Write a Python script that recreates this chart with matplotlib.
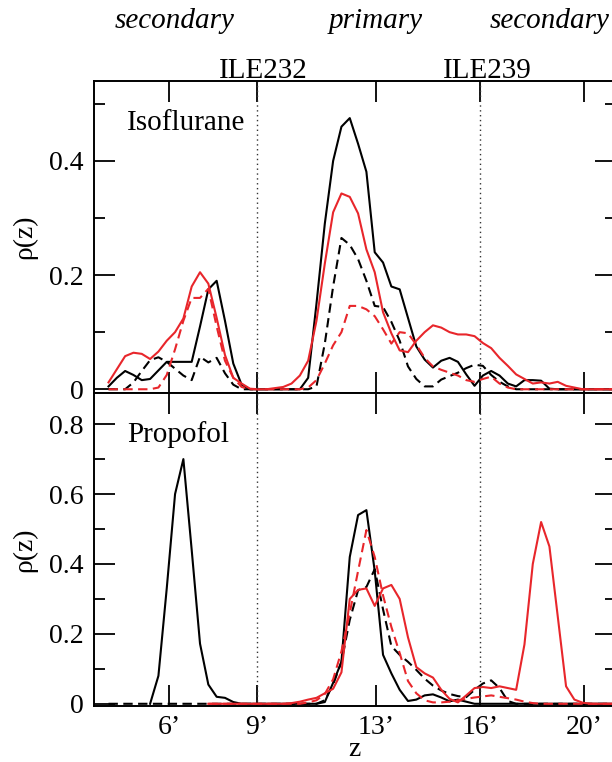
import numpy as np
import matplotlib
matplotlib.use("Agg")
import matplotlib.pyplot as plt
from matplotlib.ticker import FixedLocator, FuncFormatter

plt.rcParams['font.family'] = ['Liberation Serif', 'DejaVu Serif']

# z grid (bins), -45 .. 16
z = np.arange(-45, 17)
nan = np.nan

# Isoflurane panel
iso_black_solid = [0.005, 0.02, 0.032, 0.025, 0.016, 0.018, 0.033, 0.048, 0.048, 0.048,
                   0.048, 0.11, 0.175, 0.19, 0.12, 0.045, 0.008, 0, 0, 0,
                   0, 0, 0, 0, 0.02, 0.15, 0.29, 0.40, 0.46, 0.475,
                   0.43, 0.381, 0.24, 0.222, 0.18, 0.175, 0.125, 0.075, 0.052, 0.038,
                   0.05, 0.055, 0.048, 0.026, 0.006, 0.024, 0.032, 0.024, 0.01, 0.005,
                   0.016, 0.016, 0.015, 0.001, 0, 0, 0, 0, 0, 0, 0, 0]
iso_red_solid = [0.012, 0.035, 0.058, 0.064, 0.062, 0.053, 0.066, 0.085, 0.1, 0.124,
                 0.18, 0.205, 0.185, 0.125, 0.06, 0.02, 0.01, 0.001, 0, 0,
                 0.002, 0.004, 0.01, 0.024, 0.05, 0.12, 0.22, 0.31, 0.343, 0.337,
                 0.308, 0.245, 0.205, 0.135, 0.098, 0.068, 0.065, 0.085, 0.1, 0.112,
                 0.108, 0.1, 0.096, 0.096, 0.093, 0.081, 0.072, 0.055, 0.041, 0.026,
                 0.018, 0.01, 0.012, 0.01, 0.013, 0.006, 0.003, 0, 0, 0, 0, 0]
iso_black_dashed = [0, 0, 0, 0.012, 0.032, 0.051, 0.056, 0.048, 0.036, 0.024,
                    0.016, 0.057, 0.047, 0.055, 0.028, 0.008, 0, 0, 0, 0,
                    0, 0, 0, 0, 0, 0.005, 0.08, 0.18, 0.265, 0.253,
                    0.228, 0.19, 0.146, 0.144, 0.118, 0.085, 0.04, 0.018, 0.005, 0.005,
                    0.017, 0.023, 0.029, 0.037, 0.043, 0.041, 0.025, 0.013, 0.005, 0,
                    0, 0, 0, 0, 0, 0, 0, 0, 0, 0, 0, 0]
iso_red_dashed = [0, 0, 0, 0, 0, 0, 0.003, 0.025, 0.07, 0.12,
                  0.16, 0.16, 0.176, 0.11, 0.05, 0.02, 0.004, 0, 0, 0,
                  0, 0, 0, 0, 0.003, 0.016, 0.045, 0.077, 0.1, 0.146,
                  0.146, 0.14, 0.128, 0.105, 0.08, 0.1, 0.098, 0.078, 0.055, 0.04,
                  0.034, 0.029, 0.024, 0.016, 0.013, 0.018, 0.022, 0.01, 0.003, 0,
                  0, 0, 0, 0, 0, 0, 0, 0, 0, 0, 0, 0]

# Propofol panel
pro_black_solid = [nan, nan, nan, nan, nan, 0.0, 0.08, 0.33, 0.60, 0.70,
                   0.44, 0.172, 0.055, 0.02, 0.017, 0.005, 0, 0, 0, 0,
                   0, 0, 0, 0, 0, 0, 0.005, 0.06, 0.12, 0.42,
                   0.54, 0.554, 0.38, 0.14, 0.087, 0.04, 0.008, 0.012, 0.024, 0.027,
                   0.018, 0.007, 0.012, 0.006, 0, 0, 0, 0, 0, 0,
                   0, 0, 0, 0, 0, 0, 0, 0, 0, 0, 0, 0]
pro_black_dashed = [0, 0, 0, 0, 0, 0, 0, 0, 0, 0,
                    0, 0, 0, 0, 0, 0, 0, 0, 0, 0,
                    0, 0, 0, 0, 0, 0, 0.01, 0.055, 0.12, 0.24,
                    0.325, 0.334, 0.385, 0.27, 0.165, 0.14, 0.12, 0.097, 0.072, 0.052,
                    0.038, 0.028, 0.022, 0.019, 0.04, 0.058, 0.067, 0.045, 0.008, 0,
                    0, 0, 0, 0, 0, 0, 0, 0, 0, 0, 0, 0]
pro_red_solid = [nan, nan, nan, nan, nan, nan, nan, nan, nan, nan,
                 nan, nan, 0, 0, 0, 0, 0, 0, 0, 0,
                 0, 0, 0.002, 0.006, 0.012, 0.017, 0.03, 0.043, 0.09, 0.3,
                 0.326, 0.33, 0.28, 0.33, 0.34, 0.30, 0.19, 0.105, 0.087, 0.075,
                 0.04, 0.014, 0.004, 0.024, 0.045, 0.048, 0.045, 0.05, 0.045, 0.04,
                 0.17, 0.40, 0.52, 0.45, 0.25, 0.05, 0.012, 0.003, 0, 0, 0, 0]
pro_red_dashed = [nan, nan, nan, nan, nan, nan, nan, nan, nan, nan,
                  nan, nan, 0, 0, 0, 0, 0, 0, 0, 0,
                  0, 0, 0, 0, 0.004, 0.01, 0.028, 0.07, 0.15, 0.26,
                  0.38, 0.497, 0.42, 0.31, 0.22, 0.145, 0.065, 0.03, 0.01, 0.004,
                  0.004, 0.006, 0.01, 0.014, 0.018, 0.021, 0.024, 0.02, 0.016, 0.012,
                  0.006, 0.002, 0, 0, 0, 0, 0, 0, 0, 0, 0, 0]

# residue positions along z
res_pos = [-37.73, -27.15, -12.85, -0.35, 12.15]
res_labels = ["6\u2019", "9\u2019", "13\u2019", "16\u2019", "20\u2019"]
ile_pos = [-27.15, -0.35]
xlim = (-46.78, 16.0)

RED = '#e8262b'
LW = 1.5
DASH = (4.5, 2.6)

fig = plt.figure(figsize=(6.12, 7.62), dpi=100)
ax1 = fig.add_axes([0.1531, 0.4843, 0.8534, 0.4094])
ax2 = fig.add_axes([0.1531, 0.0741, 0.8534, 0.4101])


def draw(ax, bs, bd, rs, rd):
    ax.plot(z, bs, color='black', lw=LW)
    ax.plot(z, bd, color='black', lw=LW, dashes=DASH)
    ax.plot(z, rs, color=RED, lw=LW)
    ax.plot(z, rd, color=RED, lw=LW, dashes=DASH)
    for p in ile_pos:
        ax.axvline(p, color='#333333', lw=1.0, linestyle=(0, (1, 2.5)))
    ax.set_xlim(*xlim)
    ax.xaxis.set_major_locator(FixedLocator(res_pos))
    ax.set_xticklabels(res_labels)
    ax.tick_params(which='both', direction='in', top=True, right=True,
                   width=1.3, labelsize=20, pad=7)
    ax.tick_params(which='major', length=15)
    ax.tick_params(which='minor', length=8)
    ax.yaxis.set_major_formatter(FuncFormatter(lambda v, p: '0' if abs(v) < 1e-9 else f'{v:.1f}'))
    for s in ax.spines.values():
        s.set_linewidth(1.4)
    ax.set_ylabel('\u03c1(z)', fontsize=20)
    ax.yaxis.set_label_coords(-0.109, 0.5)


draw(ax1, iso_black_solid, iso_black_dashed, iso_red_solid, iso_red_dashed)
draw(ax2, pro_black_solid, pro_black_dashed, pro_red_solid, pro_red_dashed)

ax1.set_ylim(-0.0065, 0.54)
ax1.yaxis.set_major_locator(FixedLocator([0, 0.2, 0.4]))
ax1.yaxis.set_minor_locator(FixedLocator([0.1, 0.3, 0.5]))
ax1.tick_params(labelbottom=False)

ax2.set_ylim(-0.005, 0.889)
ax2.yaxis.set_major_locator(FixedLocator([0, 0.2, 0.4, 0.6, 0.8]))
ax2.yaxis.set_minor_locator(FixedLocator([0.1, 0.3, 0.5, 0.7]))
ax2.set_xlabel('z', fontsize=20)
ax2.xaxis.set_label_coords(0.5, -0.1)

ax1.text(0.064, 0.843, 'Isoflurane', transform=ax1.transAxes, fontsize=21, va='baseline')
ax2.text(0.064, 0.843, 'Propofol', transform=ax2.transAxes, fontsize=21, va='baseline')

# region / residue labels above the plot
fig.text(0.286, 0.963, 'secondary', style='italic', fontsize=21, ha='center', va='baseline')
fig.text(0.614, 0.963, 'primary', style='italic', fontsize=21, ha='center', va='baseline')
fig.text(0.898, 0.963, 'secondary', style='italic', fontsize=21, ha='center', va='baseline')
fig.text(0.431, 0.8976, 'ILE232', fontsize=21, ha='center', va='baseline')
fig.text(0.797, 0.8976, 'ILE239', fontsize=21, ha='center', va='baseline')

fig.savefig('out.png', dpi=100)
